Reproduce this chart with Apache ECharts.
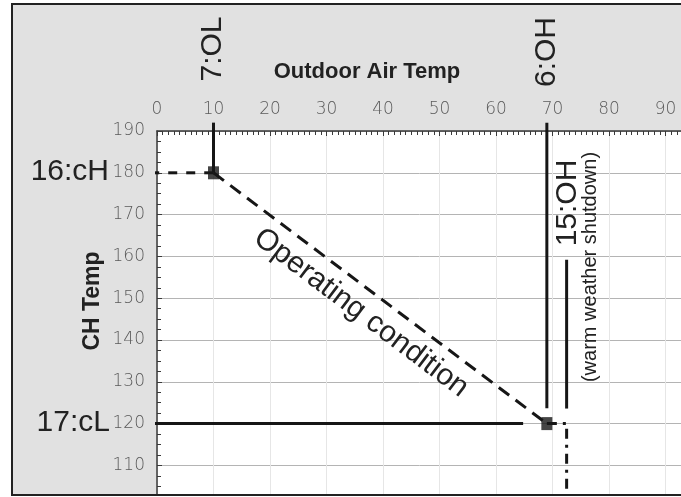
<!DOCTYPE html>
<html>
<head>
<meta charset="utf-8">
<script src="https://cdn.jsdelivr.net/npm/echarts@6/dist/echarts.min.js"></script>
<style>
  html, body { margin: 0; padding: 0; background: #fff; }
  #wrap { position: relative; width: 681px; height: 497px; overflow: hidden; }
  #panel { position: absolute; left: 11px; top: 3px; width: 700px; height: 489px; background: #e1e1e1; border: 2px solid #222; }
  #chart { position: absolute; left: 0; top: 0; width: 681px; height: 497px; }
  #edge { position: absolute; left: 11px; top: 3px; width: 700px; height: 489px; border: 2px solid #222; background: transparent; pointer-events: none; }
  #strip { position: absolute; left: 0; top: 496px; width: 681px; height: 1px; background: #fff; }
</style>
</head>
<body>
<div id="wrap">
  <div id="panel"></div>
  <div id="chart"></div>
  <div id="edge"></div>
  <div id="strip"></div>
</div>
<script>
// axis ranges (the picture is cropped on the right and at the bottom)
const outdoorRange = [0, 100];
const chRange = [100, 190];

// set points: 7:OL / 16:cH and 6:OH / 17:cL
const pointX = [10, 69];
const pointY = [180, 120];

// 7:OL line, from above the top axis down to the upper point
const olX = [10, 10];
const olY = [192, 180];
// 6:OH line, down to just above the lower point
const ohX = [69, 69];
const ohY = [192, 123.7];
// 16:cH dashed line from the left axis
const chHighX = [-1.2, 10];
const chHighY = [180, 180];
// 17:cL solid line from the left axis
const chLowX = [-1.2, 64.8];
const chLowY = [120, 120];
// 15:OH warm weather shutdown line
const wwsdX = [72.5, 72.5];
const wwsdY = [159.2, 123.6];
// dash-dot leg from the lower point
const legX = [69, 72.5, 72.5];
const legY = [120, 120, 100];

const pairs = (xs, ys) => xs.map((x, i) => [x, ys[i]]);

const chart = echarts.init(document.getElementById('chart'));

const ink = '#161616';
const bigFont = '"Liberation Sans", Arial, sans-serif';
const tickFont = '"DejaVu Sans", sans-serif';

function lineSeries(data, type) {
  return {
    type: 'line',
    data: data,
    symbol: 'none',
    clip: false,
    silent: true,
    lineStyle: { color: ink, width: 3, type: type || 'solid', cap: 'butt' },
    z: 5
  };
}

function label(text, x, y, size, rot) {
  return {
    type: 'text',
    x: x,
    y: y,
    rotation: rot || 0,
    style: {
      text: text,
      fontSize: size,
      fontFamily: bigFont,
      fill: '#222',
      align: 'center',
      verticalAlign: 'middle',
      textAlign: 'center',
      textVerticalAlign: 'middle'
    },
    z: 20
  };
}

const option = {
  animation: false,
  backgroundColor: 'transparent',
  grid: {
    left: 157,
    top: 131,
    width: 565,
    height: 376.2,
    outerBoundsMode: 'none',
    containLabel: false,
    show: true,
    backgroundColor: '#fff',
    borderWidth: 0
  },
  xAxis: {
    type: 'value',
    position: 'top',
    min: outdoorRange[0],
    max: outdoorRange[1],
    interval: 10,
    axisLine: { show: true, lineStyle: { color: '#3a3a3a', width: 1.5 } },
    axisTick: { show: true, inside: true, length: 5, lineStyle: { color: '#3a3a3a' } },
    minorTick: { show: true, splitNumber: 10, length: 4, lineStyle: { color: '#3a3a3a' } },
    axisLabel: { margin: 13, color: '#5a5a5a', fontSize: 17, fontFamily: tickFont, fontWeight: 200 },
    splitLine: { show: true, lineStyle: { color: '#e6e6e6', width: 1 } }
  },
  yAxis: {
    type: 'value',
    min: chRange[0],
    max: chRange[1],
    interval: 10,
    axisLine: { show: true, lineStyle: { color: '#3a3a3a', width: 1.5 } },
    axisTick: { show: true, inside: true, length: 5, lineStyle: { color: '#3a3a3a' } },
    minorTick: { show: true, splitNumber: 4, length: 4, lineStyle: { color: '#3a3a3a' } },
    axisLabel: { margin: 12, color: '#5a5a5a', fontSize: 17, fontFamily: tickFont, fontWeight: 200 },
    splitLine: { show: true, lineStyle: { color: '#b4b4b4', width: 1 } }
  },
  series: [
    lineSeries(pairs(olX, olY)),
    lineSeries(pairs(ohX, ohY)),
    lineSeries(pairs(chHighX, chHighY), [9, 9]),
    lineSeries(pairs(pointX, pointY), [13, 8]),
    lineSeries(pairs(chLowX, chLowY)),
    lineSeries(pairs(wwsdX, wwsdY)),
    lineSeries(pairs(legX, legY), [10, 6, 3, 6]),
    {
      type: 'scatter',
      data: pairs(pointX, pointY),
      symbol: 'rect',
      symbolSize: [11, 13],
      itemStyle: { color: ink },
      silent: true,
      z: 6
    }
  ],
  graphic: [
    label('Outdoor Air Temp', 367, 72, 22, 0),
    label('CH Temp', 93, 301, 23, Math.PI / 2),
    label('7:OL', 213, 49, 30, Math.PI / 2),
    label('6:OH', 547, 52, 30, Math.PI / 2),
    label('15:OH', 568, 203, 30, Math.PI / 2),
    label('(warm weather shutdown)', 590, 267, 20, Math.PI / 2),
    label('Operating condition', 361, 313, 30, -37 * Math.PI / 180),
    label('16:cH', 109, 172, 30, 0),
    label('17:cL', 110, 423, 30, 0)
  ]
};

// bold titles, right-aligned side labels
option.graphic[0].style.fontWeight = 'bold';
option.graphic[1].style.fontWeight = 'bold';
[option.graphic[7], option.graphic[8]].forEach(g => {
  g.style.align = 'right';
  g.style.textAlign = 'right';
});

chart.setOption(option);
</script>
</body>
</html>
